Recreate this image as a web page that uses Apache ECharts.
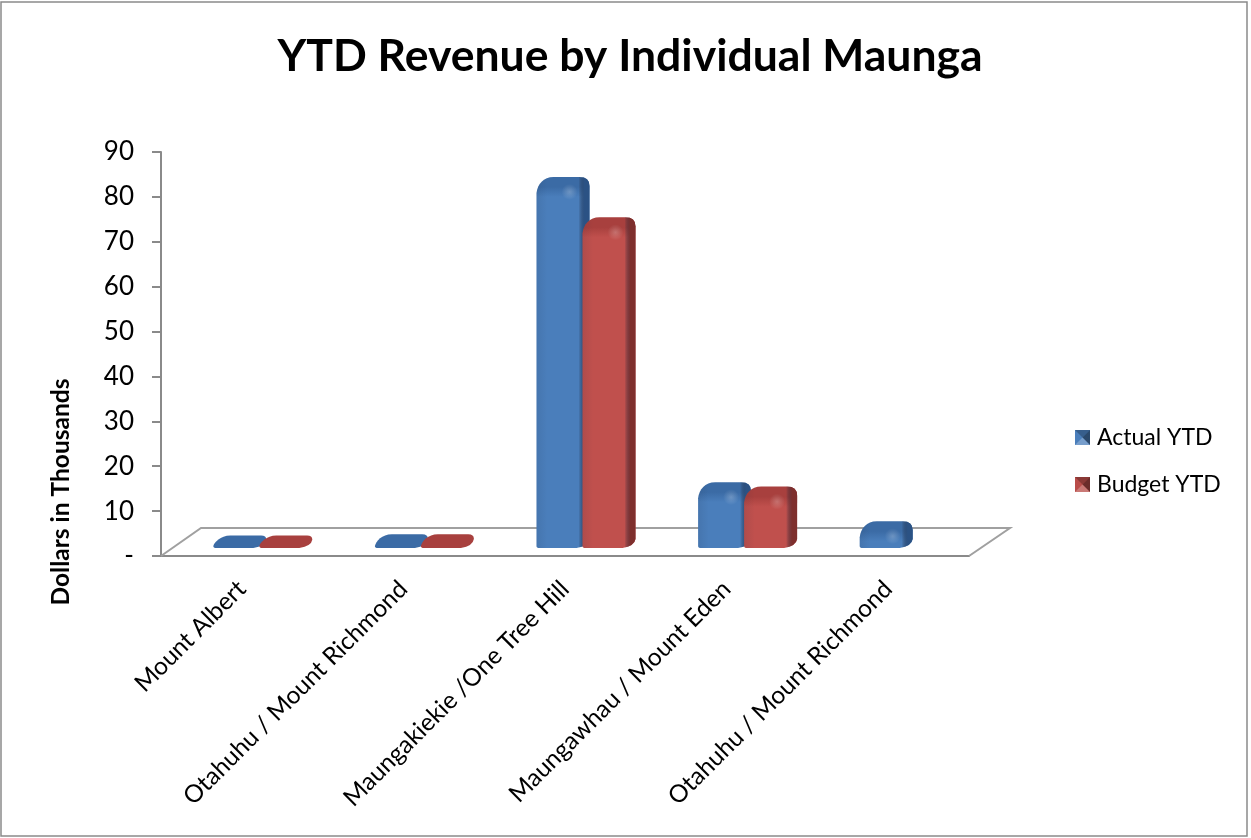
<!DOCTYPE html>
<html>
<head>
<meta charset="utf-8">
<title>YTD Revenue by Individual Maunga</title>
<script src="https://cdn.jsdelivr.net/npm/echarts@6/dist/echarts.min.js"></script>
<style>
html, body { margin: 0; padding: 0; background: #fff; }
#main { width: 1251px; height: 838px; }
</style>
</head>
<body>
<div id="main"></div>
<script>
var categories = ['Mount Albert', 'Otahuhu / Mount Richmond', 'Maungakiekie /One Tree Hill', 'Maungawhau / Mount Eden', 'Otahuhu / Mount Richmond'];
var actualYtd = [0.1, 0.4, 80, 12, 3.3];
var budgetYtd = [0.1, 0.4, 71, 11, null];

var blue = { front: '#4a7ebb', cap: '#3b6ba5', side: '#2b5284', legend: '#4a7ebb' };
var red = { front: '#c0504d', cap: '#a8403e', side: '#7e2f2d', legend: '#b94c49' };

var AXIS_COLOR = '#8a8a8a';
var FONT = 'Lato, "Open Sans", sans-serif';

// 3D look of the excel column, drawn around the value from the axis
var BAR_W = 53, DEPTH_X = 13, DEPTH_Y = 12, FLOOR_LIFT = 8, STRIP = 7;

function barShape(colors, offset) {
  return function (params, api) {
    var val = api.value(1);
    if (val == null || isNaN(val)) return null;
    var p0 = api.coord([api.value(0), 0]);
    var p1 = api.coord([api.value(0), val]);
    var h = p0[1] - p1[1];
    var yb = p0[1] - FLOOR_LIFT;
    var x0 = p0[0] + offset, x1 = x0 + BAR_W;
    var yf = yb - h;                 // top of the front face
    var yt = yf - DEPTH_Y;           // top of the whole bar
    var r = Math.min(9, (h + DEPTH_Y) / 3);
    // left edge: straight up to the shoulder, then a soft curve over the top
    var shoulder = h > 10 ? yf + 4 : yb - 2;
    var outline = 'M' + (x0 + 3) + ' ' + yb +
      ' Q' + x0 + ' ' + yb + ' ' + x0 + ' ' + (yb - 2) +
      ' L' + x0 + ' ' + shoulder +
      ' C' + (x0 + 1) + ' ' + (yt + 7) + ' ' + (x0 + 7) + ' ' + yt + ' ' + (x0 + DEPTH_X + 4) + ' ' + yt +
      ' L' + (x1 - r - 1) + ' ' + yt +
      ' Q' + x1 + ' ' + yt + ' ' + x1 + ' ' + (yt + r) +
      ' L' + x1 + ' ' + Math.max(yt + r, yb - DEPTH_Y + 3) +
      ' Q' + (x1 - 1) + ' ' + (yb - 2) + ' ' + (x1 - DEPTH_X) + ' ' + yb + ' Z';
    var rect = { x: x0, y: yt, width: BAR_W, height: yb - yt, layout: 'none' };
    var kids = [];
    if (h > 4) {
      kids.push({
        type: 'path', shape: Object.assign({ pathData: outline }, rect),
        style: {
          fill: new echarts.graphic.LinearGradient(0, yt, 0, yf + 8, [
            { offset: 0, color: colors.cap },
            { offset: 0.5, color: colors.cap },
            { offset: 1, color: colors.front }
          ], true)
        }
      });
      // darker strip on the right and slight shade on the left, fading into the face
      kids.push({
        type: 'path', shape: Object.assign({ pathData: outline }, rect),
        style: {
          fill: new echarts.graphic.LinearGradient(x0, 0, x1, 0, [
            { offset: 0, color: 'rgba(30,40,60,0.10)' },
            { offset: 0.2, color: 'rgba(30,40,60,0)' },
            { offset: (BAR_W - STRIP - 4) / BAR_W, color: 'rgba(30,40,60,0)' },
            { offset: (BAR_W - STRIP + 2) / BAR_W, color: colors.side },
            { offset: 1, color: colors.side }
          ], true)
        }
      });
      // soft shine where the face meets the top
      kids.push({
        type: 'circle',
        shape: { cx: x1 - 20, cy: yf + 3, r: 8 },
        style: {
          fill: new echarts.graphic.RadialGradient(0.5, 0.5, 0.5, [
            { offset: 0, color: 'rgba(255,255,255,0.22)' },
            { offset: 1, color: 'rgba(255,255,255,0)' }
          ])
        }
      });
    } else {
      kids.push({ type: 'path', shape: Object.assign({ pathData: outline }, rect), style: { fill: colors.cap } });
    }
    return { type: 'group', children: kids };
  };
}

function rows(values) {
  return values.map(function (v, i) { return [i, v]; });
}

// pyramid bevel laid over one legend swatch
function swatchBevel(x, y, s) {
  var c = [x + s / 2, y + s / 2];
  return [
    { type: 'polygon', z: 10, silent: true, shape: { points: [[x, y], [x + s, y], c] }, style: { fill: 'rgba(0,0,0,0.25)' } },
    { type: 'polygon', z: 10, silent: true, shape: { points: [[x + s, y], [x + s, y + s], c] }, style: { fill: 'rgba(0,0,0,0.42)' } },
    { type: 'polygon', z: 10, silent: true, shape: { points: [[x, y + s], [x + s, y + s], c] }, style: { fill: 'rgba(255,255,255,0.25)' } }
  ];
}

var chart = echarts.init(document.getElementById('main'));
var option = {
  animation: false,
  backgroundColor: '#fff',
  title: {
    text: 'YTD Revenue by Individual Maunga',
    left: 625,
    top: 29,
    textAlign: 'center',
    textStyle: { fontFamily: FONT, fontSize: 44.5, fontWeight: 'bold', color: '#000' }
  },
  legend: {
    orient: 'vertical',
    left: 1075,
    top: 426,
    padding: 0,
    itemWidth: 15,
    itemHeight: 15,
    itemGap: 24,
    icon: 'rect',
    textStyle: { fontFamily: FONT, fontSize: 23, color: '#000', padding: [0, 0, 0, 2] },
    data: ['Actual YTD', 'Budget YTD']
  },
  grid: { left: 161, right: 282, top: 152, bottom: 282 },
  xAxis: {
    type: 'category',
    data: categories,
    axisLine: { lineStyle: { color: AXIS_COLOR, width: 2 } },
    axisTick: { alignWithLabel: false, length: 10, lineStyle: { color: AXIS_COLOR, width: 2 } },
    axisLabel: { interval: 0, rotate: 45, margin: 29, fontFamily: FONT, fontSize: 24.5, color: '#000' }
  },
  yAxis: {
    type: 'value',
    min: 0,
    max: 90,
    interval: 10,
    splitLine: { show: false },
    axisLine: { show: true, lineStyle: { color: AXIS_COLOR, width: 2 } },
    axisTick: { show: true, length: 9, lineStyle: { color: AXIS_COLOR, width: 2 } },
    axisLabel: {
      margin: 27,
      padding: [8, 0, 0, 0],
      fontFamily: FONT,
      fontSize: 26,
      color: '#000',
      formatter: function (v) { return v === 0 ? '-' : String(v); }
    }
  },
  graphic: [
    { type: 'rect', z: 0, silent: true, shape: { x: 1, y: 2, width: 1246, height: 834 }, style: { fill: 'none', stroke: '#8a8a8a', lineWidth: 1.5 } },
    { type: 'polyline', z: 1, silent: true, shape: { points: [[161, 556], [201, 528], [1010, 528], [969, 556]] }, style: { fill: 'none', stroke: '#a0a0a0', lineWidth: 2 } },
    {
      type: 'text', z: 5, x: 61, y: 492, rotation: Math.PI / 2, silent: true,
      style: { text: 'Dollars in Thousands', fontFamily: FONT, fontSize: 24.5, fontWeight: 'bold', fill: '#000', align: 'center', verticalAlign: 'middle' }
    }
  ].concat(swatchBevel(1075, 430, 15), swatchBevel(1075, 477, 15)),
  series: [
    { name: 'Actual YTD', type: 'custom', z: 3, renderItem: barShape(blue, -28.5), encode: { x: 0, y: 1 }, data: rows(actualYtd), itemStyle: { color: blue.legend } },
    { name: 'Budget YTD', type: 'custom', z: 4, renderItem: barShape(red, 17.5), encode: { x: 0, y: 1 }, data: rows(budgetYtd), itemStyle: { color: red.legend } }
  ]
};
chart.setOption(option);
window.onresize = function () {
  chart.resize();
};
</script>
</body>
</html>
